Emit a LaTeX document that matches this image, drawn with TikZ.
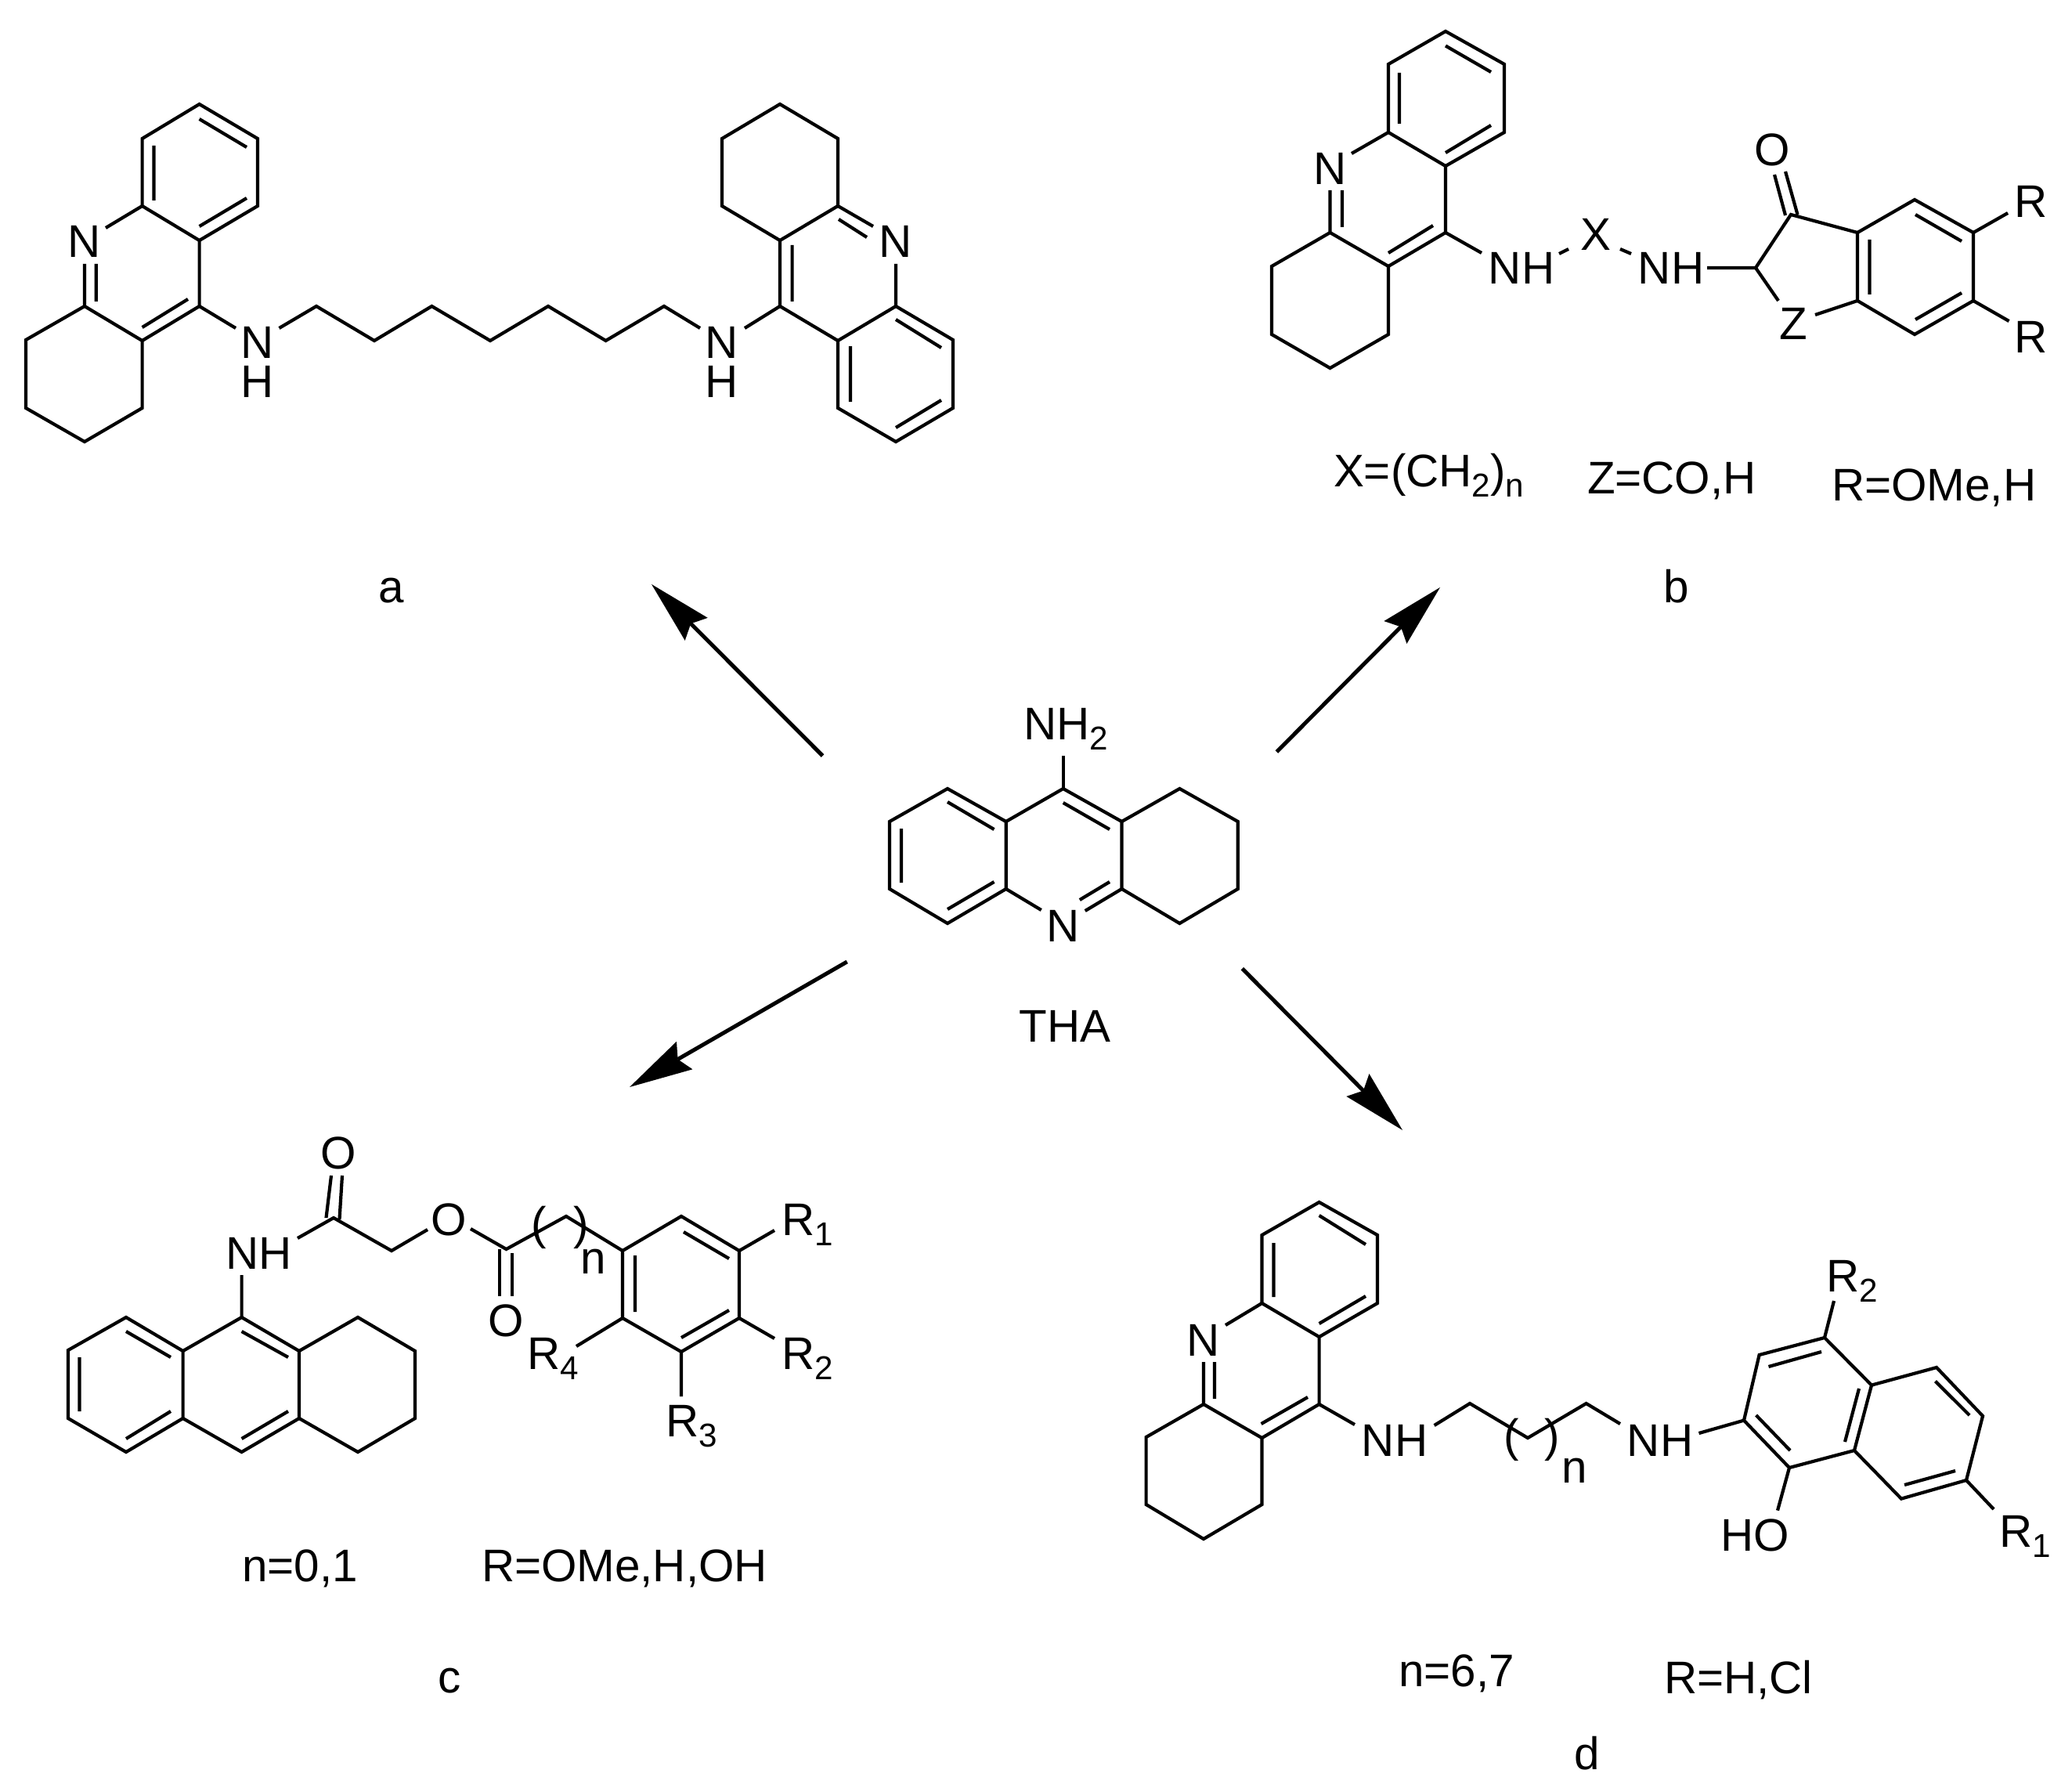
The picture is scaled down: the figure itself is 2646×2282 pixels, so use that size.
\documentclass[tikz,border=0pt]{standalone}
\usepackage{fontspec}
\setmainfont{Liberation Sans}
\usetikzlibrary{arrows.meta}
\newcommand{\chemsize}{\fontsize{16.6}{18}\selectfont}
\newcommand{\sbs}[1]{\raisebox{-3.9pt}{\fontsize{12}{13}\selectfont #1}}
\tikzset{
  bond/.style={line width=0.042cm,line join=miter,miter limit=10},
  rxn/.style={line width=0.05cm,-{Stealth[length=0.81cm,width=0.41cm,inset=0.1cm,line width=0pt]}},
  lbl/.style={inner sep=0pt,outer sep=0pt,anchor=base,font=\chemsize,text=black},
  lbw/.style={lbl,anchor=base west}
}
\begin{document}
\begin{tikzpicture}[x=0.01cm,y=-0.01cm]
\useasboundingbox (0,0) rectangle (2646,2282);
% ---------- a ----------
\draw[bond] (108,337)--(108,391)--(33,434)--(33,521)--(108,564)--(181.6,521)--(181.6,435)--(108,391);
\draw[bond] (181.6,435)--(254.6,391)--(254.6,307)--(181.6,263)--(181.6,177)--(254.6,133)--(329,177)--(329,263)--(254.6,307);
\draw[bond] (135,291)--(181.6,263);
\draw[bond] (122.7,337)--(122.7,385) (240,382)--(181.6,418) (254.6,152)--(315,188) (315,253)--(254.6,289) (196.5,186)--(196.5,256);
\draw[bond] (254.6,391)--(301,419) (356.5,419)--(404,391)--(478,435)--(551.4,391)--(626,435)--(700,391)--(773.6,435)--(848,391)--(894,419) (951,419)--(996,391);
\draw[bond] (996,391)--(996,307)--(922,263)--(922,177)--(996,133)--(1070,177)--(1070,263)--(996,307);
\draw[bond] (1011.6,313)--(1011.6,385) (1070,263)--(1115,289) (1071,280)--(1107,303);
\draw[bond] (1144,337)--(1144,391)--(1217,434)--(1217,521)--(1144,564)--(1070,521)--(1070,435)--(996,391) (1070,435)--(1144,391);
\draw[bond] (1144,408)--(1202,444) (1144,546)--(1202,511) (1086,442)--(1086,513);
\node[lbl] (aN1) at (108,329) {N};
\node[lbl] (aNH1n) at (329,458) {N};
\node[lbl] (aNH1h) at (329,507) {H};
\node[lbl] (aNH2n) at (922,458) {N};
\node[lbl] (aNH2h) at (922,507) {H};
\node[lbl] (aN2) at (1144,329) {N};
\node[lbl] (alabel) at (500,769) {a};
% ---------- b ----------
\draw[bond] (1698.5,243)--(1698.5,297)--(1624,340)--(1624,427)--(1698.5,470)--(1773,427)--(1773,340)--(1698.5,297);
\draw[bond] (1773,340)--(1846,297)--(1846,212)--(1773,169)--(1773,82)--(1846,40)--(1921,82)--(1921,169)--(1846,212);
\draw[bond] (1726,196)--(1773,169) (1714,243)--(1714,290) (1830,288)--(1773,323);
\draw[bond] (1846,58.5)--(1904,92) (1904,160)--(1846,195) (1787,93)--(1787,158);
\draw[bond] (1846,297)--(1892,323) (1991,324)--(2003,318) (2069,318)--(2083,324);
\draw[bond] (2180,342)--(2242,342)--(2287,274)--(2372,297) (2242,342)--(2271,384) (2318,402)--(2372,384);
\draw[bond] (2295.5,274)--(2280,219) (2280,275)--(2266,223);
\draw[bond] (2372,297)--(2445,255)--(2520,297)--(2520,384)--(2445,427)--(2372,384)--cycle;
\draw[bond] (2387.5,306)--(2387.5,376) (2446,274)--(2505,308) (2505,374)--(2446,408);
\draw[bond] (2520,297)--(2564,272) (2520,384)--(2565.5,410);
\node[lbl] (bN) at (1698.5,236) {N};
\node[lbl] (bNH1) at (1943,363) {NH};
\node[lbl] (bX) at (2038,320) {X};
\node[lbl] (bNH2) at (2134,363) {NH};
\node[lbl] (bO) at (2263,212) {O};
\node[lbl] (bZ) at (2290.6,433) {Z};
\node[lbl] (bR1) at (2594,278) {R};
\node[lbl] (bR2) at (2594,450) {R};
\node[lbw] (bt1) at (1703,621) {X=(CH\sbs{2})\sbs{n}};
\node[lbw] (bt2) at (2027,630) {Z=CO,H};
\node[lbw] (bt3) at (2339,639) {R=OMe,H};
\node[lbl] (blabel) at (2141,769) {b};
% ---------- THA ----------
\draw[bond] (1357.7,965)--(1357.7,1007);
\draw[bond] (1210,1007)--(1284.7,1049)--(1284.7,1135)--(1210,1179)--(1136,1135)--(1136,1049)--cycle;
\draw[bond] (1284.7,1049)--(1357.7,1007)--(1432.5,1049)--(1432.5,1135)--(1385.7,1163) (1284.7,1135)--(1329.7,1162);
\draw[bond] (1432.5,1049)--(1506.4,1007)--(1580.8,1049)--(1580.8,1135)--(1506.4,1179)--(1432.5,1135);
\draw[bond] (1378.8,1149)--(1417,1126) (1210,1024)--(1269.5,1059) (1269.5,1126)--(1210,1161) (1151,1058)--(1151,1127) (1357.7,1025)--(1417,1059);
\node[lbw] (thaNH) at (1307.6,944) {NH\sbs{2}};
\node[lbl] (thaN) at (1357.7,1202) {N};
\node[lbl] (tha) at (1360,1330) {THA};
% ---------- c ----------
\draw[bond] (161,1682)--(233.6,1725)--(233.6,1811)--(161,1854)--(87,1811)--(87,1724)--cycle;
\draw[bond] (233.6,1725)--(308.6,1682)--(382,1725)--(382,1811)--(308.6,1854)--(233.6,1811);
\draw[bond] (382,1725)--(457,1682)--(530,1725)--(530,1811)--(457,1854)--(382,1811);
\draw[bond] (161,1700)--(218,1733) (218,1802)--(161,1837) (101.5,1733)--(101.5,1802) (308.6,1700)--(368,1733) (368,1802)--(308.6,1837);
\draw[bond] (308.6,1628)--(308.6,1682) (380,1581)--(426,1555)--(500,1597)--(546,1570);
\draw[bond] (416.5,1555)--(423,1501) (433.5,1557)--(437,1501);
\draw[bond] (601,1569)--(646.5,1595)--(723,1553)--(795,1597);
\draw[bond] (638,1595)--(638,1655) (653.6,1600)--(653.6,1655);
\draw[bond] (795,1597)--(870,1553)--(944,1597)--(944,1683)--(870,1726)--(795,1683)--cycle;
\draw[bond] (811,1603)--(811,1675) (873,1573)--(931,1607) (931,1673)--(870,1708);
\draw[bond] (944,1597)--(989,1571) (944,1683)--(989,1709) (870,1726)--(870,1783) (795,1683)--(736,1719);
\node[lbl] (cNH) at (331,1620) {NH};
\node[lbl] (cO1) at (432,1492) {O};
\node[lbl] (cO2) at (573,1577) {O};
\node[lbl] (cO3) at (646.5,1706) {O};
\node[lbw] (cpl) at (678,1582) {(};
\node[lbw] (cpr) at (732,1582) {)};
\node[lbw] (cn) at (741,1626) {n};
\node[lbw] (cR1) at (998,1577) {R\sbs{1}};
\node[lbw] (cR2) at (998,1748) {R\sbs{2}};
\node[lbw] (cR3) at (850,1834) {R\sbs{3}};
\node[lbw] (cR4) at (673,1748) {R\sbs{4}};
\node[lbw] (ct1) at (309,2019) {n=0,1};
\node[lbw] (ct2) at (615,2019) {R=OMe,H,OH};
\node[lbl] (clabel) at (574,2161) {c};
% ---------- d ----------
\draw[bond] (1537,1739)--(1537,1793)--(1463.6,1835)--(1463.6,1921)--(1537,1965)--(1611.5,1921)--(1611.5,1836)--(1537,1793);
\draw[bond] (1611.5,1836)--(1684.6,1793)--(1684.6,1707)--(1611.5,1664)--(1611.5,1577)--(1684.6,1535)--(1759,1577)--(1759,1664)--(1684.6,1707);
\draw[bond] (1565,1692)--(1611.5,1664) (1551,1739)--(1551,1786) (1670,1784)--(1610.6,1818);
\draw[bond] (1684.6,1552)--(1744,1589) (1744,1655)--(1684.6,1690) (1626.5,1587)--(1626.5,1656);
\draw[bond] (1684.6,1793)--(1730,1819) (1831.6,1820)--(1877,1792)--(1951,1836)--(2025.6,1792)--(2069,1818);
\draw[bond] (2169.5,1830)--(2227,1813.6)--(2246.6,1730)--(2330,1708)--(2390,1768.6)--(2368,1852)--(2285,1874)--(2227,1813.6);
\draw[bond] (2390,1768.6)--(2473,1746)--(2532,1808)--(2511,1890)--(2428,1913.6)--(2368,1852);
\draw[bond] (2258.5,1745)--(2326,1726) (2242.6,1807)--(2286,1852) (2374,1773)--(2356,1841) (2471.5,1763.6)--(2515,1807) (2497,1878)--(2432,1896);
\draw[bond] (2330,1708)--(2342,1661) (2511,1890)--(2546,1927) (2285,1874)--(2270,1928.6);
\node[lbl] (dN) at (1537,1731) {N};
\node[lbl] (dNH1) at (1781,1859) {NH};
\node[lbl] (dNH2) at (2120,1859) {NH};
\node[lbw] (dpl) at (1920,1853) {(};
\node[lbw] (dpr) at (1972,1853) {)};
\node[lbw] (dn) at (1994,1893) {n};
\node[lbw] (dHO) at (2197,1980) {HO};
\node[lbw] (dR1) at (2553,1975) {R\sbs{1}};
\node[lbw] (dR2) at (2332,1649) {R\sbs{2}};
\node[lbw] (dt1) at (1786,2153) {n=6,7};
\node[lbw] (dt2) at (2125,2162) {R=H,Cl};
\node[lbl] (dlabel) at (2027,2259) {d};
% ---------- reaction arrows ----------
\coordinate (sa) at (1050.5,965); \coordinate (ta) at (832,746);
\coordinate (sb) at (1630.4,960); \coordinate (tb) at (1839,750);
\coordinate (sc) at (1081.7,1228); \coordinate (tc) at (804,1388);
\coordinate (sd) at (1586.3,1236.7); \coordinate (td) at (1791,1443);
\draw[rxn] (sa)--(ta);
\draw[rxn] (sb)--(tb);
\draw[rxn] (sc)--(tc);
\draw[rxn] (sd)--(td);
\end{tikzpicture}
\end{document}
